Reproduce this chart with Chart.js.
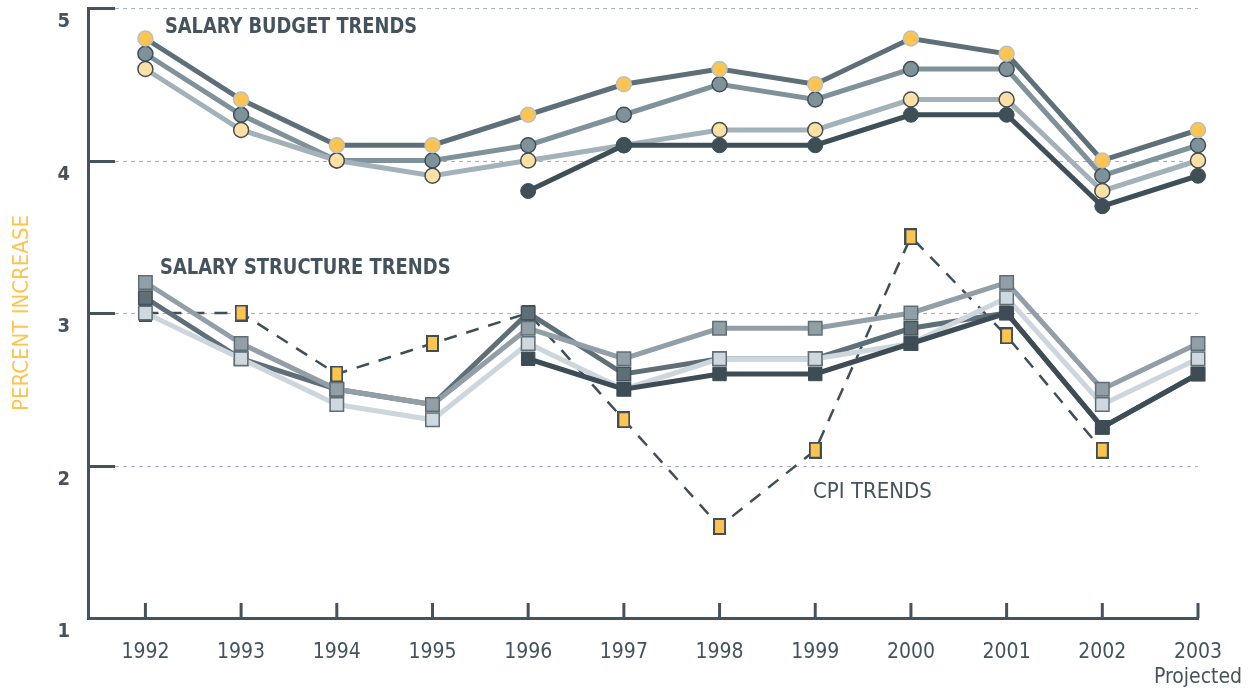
<!DOCTYPE html>
<html>
<head>
<meta charset="utf-8">
<title>Salary budget, salary structure and CPI trends</title>
<script src="https://cdn.jsdelivr.net/npm/chart.js@4.4.1/dist/chart.umd.min.js"></script>
<style>
    html, body { margin: 0; padding: 0; background: #ffffff; }
    #wrap { width: 1251px; height: 690px; position: relative; }
</style>
</head>
<body>
<div id="wrap"><canvas id="trends"></canvas></div>
<script>
// values (percent increase)
const years = ['1992', '1993', '1994', '1995', '1996', '1997', '1998', '1999', '2000', '2001', '2002', '2003'];

const budgetTop = [4.8, 4.4, 4.1, 4.1, 4.3, 4.5, 4.6, 4.5, 4.8, 4.7, 4.0, 4.2];
const budgetMid = [4.7, 4.3, 4.0, 4.0, 4.1, 4.3, 4.5, 4.4, 4.6, 4.6, 3.9, 4.1];
const budgetLight = [4.6, 4.2, 4.0, 3.9, 4.0, 4.1, 4.2, 4.2, 4.4, 4.4, 3.8, 4.0];
const budgetDark = [null, null, null, null, 3.8, 4.1, 4.1, 4.1, 4.3, 4.3, 3.7, 3.9];

const structureTop = [3.2, 2.8, 2.5, 2.4, 2.9, 2.7, 2.9, 2.9, 3.0, 3.2, 2.5, 2.8];
const structureSlate = [3.1, 2.7, 2.5, 2.4, 3.0, 2.6, 2.7, 2.7, 2.9, 3.0, 2.25, 2.6];
const structureLight = [3.0, 2.7, 2.4, 2.3, 2.8, 2.5, 2.7, 2.7, 2.8, 3.1, 2.4, 2.7];
const structureDark = [null, null, null, null, 2.7, 2.5, 2.6, 2.6, 2.8, 3.0, 2.25, 2.6];

const cpi = [3.0, 3.0, 2.6, 2.8, 3.0, 2.3, 1.6, 2.1, 3.5, 2.85, 2.1, null];

const yTicks = [1, 2, 3, 4, 5];

const FONT = '"DejaVu Sans Condensed", "DejaVu Sans", sans-serif';
const INK = '#44535c';
const YELLOW = '#fdc451';

// narrow yellow box used for the CPI markers
function cpiMarker() {
    const c = document.createElement('canvas');
    c.width = 13;
    c.height = 17;
    const g = c.getContext('2d');
    g.fillStyle = YELLOW;
    g.fillRect(1, 1, 11, 15);
    g.strokeStyle = '#3f4f58';
    g.lineWidth = 2;
    g.strokeRect(1, 1, 11, 15);
    return c;
}

function line(label, data, color, extra) {
    return Object.assign({
        label: label,
        data: data,
        borderColor: color,
        borderWidth: 5,
        tension: 0,
        clip: false,
        spanGaps: false
    }, extra);
}

// squeeze a label horizontally so it keeps the condensed look of the original
function narrowText(ctx, text, x, y, squeeze) {
    ctx.save();
    ctx.translate(x, y);
    ctx.scale(squeeze, 1);
    ctx.fillText(text, 0, 0);
    ctx.restore();
}

const frame = {
    id: 'frame',
    beforeDatasetsDraw(chart) {
        const { ctx, chartArea } = chart;
        const y = chart.scales.y;
        const x = chart.scales.x;
        ctx.save();
        yTicks.slice(1).forEach(v => {
            const py = Math.round(y.getPixelForValue(v)) + 0.5;
            ctx.setLineDash([4, 4]);
            ctx.lineWidth = 1;
            ctx.strokeStyle = '#aab5bb';
            ctx.beginPath();
            ctx.moveTo(chartArea.left + 27, py);
            ctx.lineTo(chartArea.right, py);
            ctx.stroke();
            ctx.setLineDash([]);
            ctx.lineWidth = 3;
            ctx.strokeStyle = INK;
            ctx.beginPath();
            ctx.moveTo(chartArea.left, py);
            ctx.lineTo(chartArea.left + 27, py);
            ctx.stroke();
        });
        ctx.lineWidth = 3;
        ctx.strokeStyle = INK;
        years.forEach(yr => {
            const px = x.getPixelForValue(Number(yr));
            ctx.beginPath();
            ctx.moveTo(px, chartArea.bottom);
            ctx.lineTo(px, chartArea.bottom - 15);
            ctx.stroke();
        });
        ctx.restore();
    },
    afterDraw(chart) {
        const ctx = chart.ctx;
        ctx.save();
        ctx.fillStyle = INK;
        ctx.textBaseline = 'alphabetic';
        ctx.font = 'bold 22px ' + FONT;
        narrowText(ctx, 'SALARY BUDGET TRENDS', 165, 33, 0.9);
        narrowText(ctx, 'SALARY STRUCTURE TRENDS', 160, 274, 0.905);
        ctx.font = '22px ' + FONT;
        narrowText(ctx, 'CPI TRENDS', 813, 498, 1);
        ctx.restore();
    }
};

const ctx = document.getElementById('trends').getContext('2d');
new Chart(ctx, {
    type: 'line',
    data: {
        labels: years,
        datasets: [
            line('Salary budget (4)', budgetDark, '#3f4f58', {
                order: 0, pointRadius: 7.5, pointBackgroundColor: '#3f4f58', pointBorderColor: '#3f4f58', pointBorderWidth: 1
            }),
            line('Salary budget (1)', budgetTop, '#5e6f78', {
                order: 1, pointRadius: 7.5, pointBackgroundColor: YELLOW, pointBorderColor: '#b7c2c8', pointBorderWidth: 1.5
            }),
            line('Salary budget (3)', budgetLight, '#a3b1b8', {
                order: 2, pointRadius: 7.5, pointBackgroundColor: '#fee0a5', pointBorderColor: '#3f4f58', pointBorderWidth: 1.5
            }),
            line('Salary budget (2)', budgetMid, '#7f9299', {
                order: 3, pointRadius: 7.5, pointBackgroundColor: '#7f9299', pointBorderColor: '#3f4f58', pointBorderWidth: 1.5
            }),
            line('Salary structure (4)', structureDark, '#3d4c55', {
                order: 4, pointStyle: 'rect', pointRadius: 9.5, pointBackgroundColor: '#3d4c55', pointBorderColor: '#3d4c55', pointBorderWidth: 1
            }),
            line('Salary structure (1)', structureTop, '#939fa7', {
                order: 5, pointStyle: 'rect', pointRadius: 9.5, pointBackgroundColor: '#939fa7', pointBorderColor: '#5e6e77', pointBorderWidth: 1.5
            }),
            line('Salary structure (3)', structureLight, '#cdd6dc', {
                order: 6, pointStyle: 'rect', pointRadius: 9.5, pointBackgroundColor: '#cfd8de', pointBorderColor: '#5e6e77', pointBorderWidth: 1.5
            }),
            line('Salary structure (2)', structureSlate, '#5f6f78', {
                order: 7, pointStyle: 'rect', pointRadius: 9.5, pointBackgroundColor: '#5f6f78', pointBorderColor: '#44535c', pointBorderWidth: 1.5
            }),
            line('CPI', cpi, '#3f4f58', {
                order: 8, borderWidth: 2.5, borderDash: [13, 10], pointStyle: cpiMarker()
            })
        ]
    },
    options: {
        responsive: true,
        maintainAspectRatio: false,
        animation: false,
        events: [],
        layout: { autoPadding: false, padding: { top: 8, right: 53, left: 0, bottom: 0 } },
        plugins: {
            legend: { display: false },
            tooltip: { enabled: false }
        },
        scales: {
            x: {
                type: 'linear',
                min: 1991.4,
                max: 2003,
                grid: { display: false, drawTicks: false },
                border: { display: true, color: INK, width: 3 },
                ticks: {
                    stepSize: 1,
                    includeBounds: false,
                    autoSkip: false,
                    padding: 22,
                    color: INK,
                    font: { family: FONT, size: 21 },
                    callback: value => value === 2003 ? ['2003', 'Projected'] : String(value)
                },
                afterFit(scale) {
                    scale.height = 72;
                    scale.paddingLeft = 0;
                    scale.paddingRight = 0;
                }
            },
            y: {
                min: 1,
                max: 5,
                grid: { display: false, drawTicks: false },
                border: { display: true, color: INK, width: 3 },
                title: {
                    display: true,
                    text: 'PERCENT INCREASE',
                    color: YELLOW,
                    font: { family: FONT, size: 22 },
                    padding: { top: 9, bottom: 0 }
                },
                ticks: {
                    stepSize: 1,
                    padding: 18,
                    labelOffset: 14,
                    color: INK,
                    font: { family: FONT, size: 20, weight: 'bold', lineHeight: 0.6 }
                },
                afterFit(scale) {
                    scale.width = 88;
                    scale.paddingTop = 0;
                    scale.paddingBottom = 0;
                }
            }
        }
    },
    plugins: [frame]
});
</script>
</body>
</html>
